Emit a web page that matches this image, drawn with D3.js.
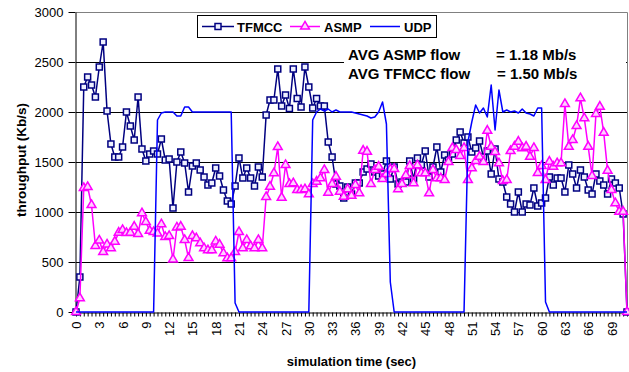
<!DOCTYPE html>
<html>
<head>
<meta charset="utf-8">
<script src="https://cdn.jsdelivr.net/npm/d3@7/dist/d3.min.js"></script>
<style>
  html, body { margin: 0; padding: 0; background: #fff; }
  svg { display: block; font-family: "Liberation Sans", Arial, sans-serif; }
</style>
</head>
<body>
<svg id="chart" width="629" height="372"></svg>
<script>
// Simulation time categories (sec), one sample every half second
const timeCategories = [
  0,0.5,1,1.5,2,2.5,3,3.5,4,4.5,5,5.5,6,6.5,7,7.5,8,8.5,9,9.5,
  10,10.5,11,11.5,12,12.5,13,13.5,14,14.5,15,15.5,16,16.5,17,17.5,18,18.5,19,19.5,
  20,20.5,21,21.5,22,22.5,23,23.5,24,24.5,25,25.5,26,26.5,27,27.5,28,28.5,29,29.5,
  30,30.5,31,31.5,32,32.5,33,33.5,34,34.5,35,35.5,36,36.5,37,37.5,38,38.5,39,39.5,
  40,40.5,41,41.5,42,42.5,43,43.5,44,44.5,45,45.5,46,46.5,47,47.5,48,48.5,49,49.5,
  50,50.5,51,51.5,52,52.5,53,53.5,54,54.5,55,55.5,56,56.5,57,57.5,58,58.5,59,59.5,
  60,60.5,61,61.5,62,62.5,63,63.5,64,64.5,65,65.5,66,66.5,67,67.5,68,68.5,69,69.5,
  70,70.5,71
];

// Throughput per flow (Kb/s)
const tfmcc = [
  0,350,2250,2350,2270,2150,2450,2700,2010,1680,
  1550,1550,1650,2000,1860,1720,2150,1630,1510,1580,
  1610,1580,1730,1520,1530,1040,1500,1600,1490,1200,
  1460,1490,1420,1350,1270,1290,1440,1360,1220,1110,
  1080,1260,1540,1340,1440,1340,1260,1450,1350,1970,
  2120,2120,2430,2060,2170,2035,2430,2135,2050,2450,
  2250,2040,2135,2060,2060,1700,1550,1280,1260,1140,
  1250,1180,1290,1290,1400,1430,1480,1400,1360,1380,
  1510,1330,1450,1280,1300,1300,1510,1330,1540,1470,
  1610,1350,1450,1650,1400,1570,1520,1580,1720,1800,
  1690,1750,1600,1640,1710,1550,1610,1380,1630,1330,
  1300,1150,1080,1000,1200,1000,1080,1070,1240,1060,
  1090,1140,1350,1270,1340,1340,1200,1470,1380,1240,
  1420,1350,1220,1180,1380,1310,1270,1180,1330,1290,
  1240,980,0
];

const asmp = [
  0,137,1240,1250,1070,660,715,600,675,637,
  703,793,820,790,793,853,780,987,900,813,
  800,785,877,750,760,525,845,853,720,540,
  760,737,687,637,617,617,705,673,587,537,
  537,600,800,637,720,657,637,720,637,1150,
  1253,1387,1650,1143,1470,1280,1287,1220,1220,1227,
  1177,1280,1303,1337,1420,1193,1280,1353,1203,1153,
  1227,1163,1270,1187,1613,1603,1280,1420,1453,1330,
  1380,1427,1430,1227,1280,1367,1460,1287,1467,1387,
  1387,1187,1420,1337,1337,1320,1500,1640,1620,1560,
  1640,1320,1437,1510,1553,1500,1813,1653,1600,1487,
  1310,1320,1610,1653,1703,1637,1653,1553,1640,1390,
  1460,1320,1503,1453,1487,1487,2080,1653,1720,1860,
  2137,1937,1653,1360,1980,2053,1793,1413,1220,1087,
  1003,1003,0
];

const udp = [
  0,0,0,0,0,0,0,0,0,0,
  0,0,0,0,0,0,0,0,0,0,
  0,1920,1990,2000,2000,2000,1960,1960,2050,2050,
  2000,2000,2000,2000,2000,2000,2000,2000,2000,2000,
  2000,90,0,0,0,0,0,0,0,0,
  0,0,0,0,0,0,0,0,0,0,
  0,1920,2000,2030,2010,2030,2000,2020,2000,2000,
  2000,2000,1990,1980,1970,1960,1940,1950,2000,2100,
  1880,300,0,0,0,0,0,0,0,0,
  0,0,0,0,0,0,0,0,0,0,
  0,1700,1900,2070,1990,2040,1950,2270,1820,2220,
  2000,2020,2000,2010,1990,2030,1990,1980,1960,2040,
  2040,100,0,0,0,0,0,0,0,0,
  0,0,0,0,0,0,0,0,0,0,
  0,0,0
];

const yTickValues = [0, 500, 1000, 1500, 2000, 2500, 3000];
const xTickLabels = ["0","3","6","9","12","15","18","21","24","27","30","33",
  "36","39","42","45","48","51","54","57","60","63","66","69"];
const seriesNames = ["TFMCC", "ASMP", "UDP"];
const avgNames = ["AVG ASMP flow", "AVG TFMCC flow"];
const avgValues = ["= 1.18 Mb/s", "= 1.50 Mb/s"];

const colors = { TFMCC: "#000080", ASMP: "#ff00ff", UDP: "#0000ff" };

const svg = d3.select("#chart");
const plot = { left: 76, right: 627, top: 12, bottom: 312 };

const x = d3.scalePoint().domain(timeCategories).range([plot.left, plot.right]);
const y = d3.scaleLinear().domain([0, 3000]).range([plot.bottom, plot.top]);

// Horizontal gridlines
svg.append("g")
  .selectAll("line")
  .data(yTickValues.filter(v => v > 0 && v < 3000))
  .join("line")
  .attr("x1", plot.left).attr("x2", plot.right)
  .attr("y1", d => Math.round(y(d)) + 0.5).attr("y2", d => Math.round(y(d)) + 0.5)
  .attr("stroke", "#000").attr("stroke-width", 1);

// Plot area frame (top and right)
svg.append("path")
  .attr("d", `M${plot.left},${plot.top + 0.5}H${plot.right + 0.5}V${plot.bottom}`)
  .attr("fill", "none").attr("stroke", "#808080").attr("stroke-width", 1);

// Y axis
const yAxis = svg.append("g")
  .attr("transform", `translate(${plot.left - 0.5},0)`)
  .call(d3.axisLeft(y).tickValues(yTickValues).tickFormat(d3.format("d"))
    .tickSize(7).tickSizeOuter(0).tickPadding(5));
yAxis.selectAll("text").attr("font-size", 13).attr("fill", "#000")
  .style("font-family", "'Liberation Sans', Arial, sans-serif");
yAxis.selectAll("line,path").attr("stroke", "#000");

// X axis: a tick per category, a label every third second
const xAxis = svg.append("g")
  .attr("transform", `translate(0,${plot.bottom + 0.5})`)
  .call(d3.axisBottom(x).tickSize(4).tickSizeOuter(0)
    .tickFormat(d => xTickLabels.includes(String(d)) ? String(d) : ""));
xAxis.selectAll("line,path").attr("stroke", "#000");
xAxis.selectAll("text")
  .attr("font-size", 13).attr("fill", "#000")
  .style("font-family", "'Liberation Sans', Arial, sans-serif")
  .attr("transform", "rotate(-90)")
  .attr("text-anchor", "end")
  .attr("x", -9).attr("y", 0).attr("dy", "0.35em");

// Series
const series = [
  { name: "TFMCC", values: tfmcc, marker: "square" },
  { name: "ASMP", values: asmp, marker: "triangle" },
  { name: "UDP", values: udp, marker: null }
];

const line = d3.line()
  .x((d, i) => x(timeCategories[i]))
  .y(d => y(d));

const squareSym = d3.symbol().type(d3.symbolSquare).size(36);
const triSym = d3.symbol().type(d3.symbolTriangle).size(34);

series.forEach(s => {
  const g = svg.append("g");
  g.append("path")
    .datum(s.values)
    .attr("d", line)
    .attr("fill", "none")
    .attr("stroke", colors[s.name])
    .attr("stroke-width", 1.5)
    .attr("stroke-linejoin", "round");
  if (s.marker) {
    g.selectAll("path.mk")
      .data(s.values)
      .join("path")
      .attr("class", "mk")
      .attr("transform", (d, i) => `translate(${x(timeCategories[i])},${y(d)})`)
      .attr("d", s.marker === "square" ? squareSym : triSym)
      .attr("fill", s.marker === "square" ? "#eef0ff" : "#ffd0ff")
      .attr("stroke", colors[s.name])
      .attr("stroke-width", 1.5);
  }
});

// Average throughput note
svg.append("rect")
  .attr("x", 344).attr("y", 40).attr("width", 282).attr("height", 43)
  .attr("fill", "#fff");
const note = svg.append("g")
  .attr("font-size", 15).attr("font-weight", "bold").attr("fill", "#000");
avgNames.forEach((t, i) => {
  note.append("text").attr("x", 348).attr("y", 60 + i * 19).text(t);
  note.append("text").attr("x", 496 + i).attr("y", 60 + i * 19).text(avgValues[i]);
});

// Legend
const legend = svg.append("g");
legend.append("rect")
  .attr("x", 197.5).attr("y", 15.5).attr("width", 239).attr("height", 22)
  .attr("fill", "#fff").attr("stroke", "#000").attr("stroke-width", 1);
const legendItems = [
  { name: seriesNames[0], x0: 202, x1: 234, tx: 237, marker: "square" },
  { name: seriesNames[1], x0: 290, x1: 320, tx: 324, marker: "triangle" },
  { name: seriesNames[2], x0: 370, x1: 400, tx: 404, marker: null }
];
legendItems.forEach(it => {
  const cy = 26.5;
  legend.append("line")
    .attr("x1", it.x0).attr("x2", it.x1).attr("y1", cy).attr("y2", cy)
    .attr("stroke", colors[it.name]).attr("stroke-width", 1.5);
  if (it.marker) {
    legend.append("path")
      .attr("transform", `translate(${(it.x0 + it.x1) / 2},${cy})`)
      .attr("d", it.marker === "square" ? squareSym : triSym)
      .attr("fill", it.marker === "square" ? "#eef0ff" : "#ffd0ff")
      .attr("stroke", colors[it.name]).attr("stroke-width", 1.5);
  }
  legend.append("text")
    .attr("x", it.tx).attr("y", 31.5)
    .attr("font-size", 13).attr("font-weight", "bold").attr("fill", "#000")
    .text(it.name);
});

// Axis titles
svg.append("text")
  .attr("x", (plot.left + plot.right) / 2).attr("y", 366)
  .attr("text-anchor", "middle")
  .attr("font-size", 13).attr("font-weight", "bold").attr("fill", "#000")
  .text("simulation time (sec)");
svg.append("text")
  .attr("transform", `translate(26,160) rotate(-90)`)
  .attr("text-anchor", "middle")
  .attr("font-size", 13.5).attr("font-weight", "bold").attr("fill", "#000")
  .text("throughput (Kb/s)");
</script>
</body>
</html>
